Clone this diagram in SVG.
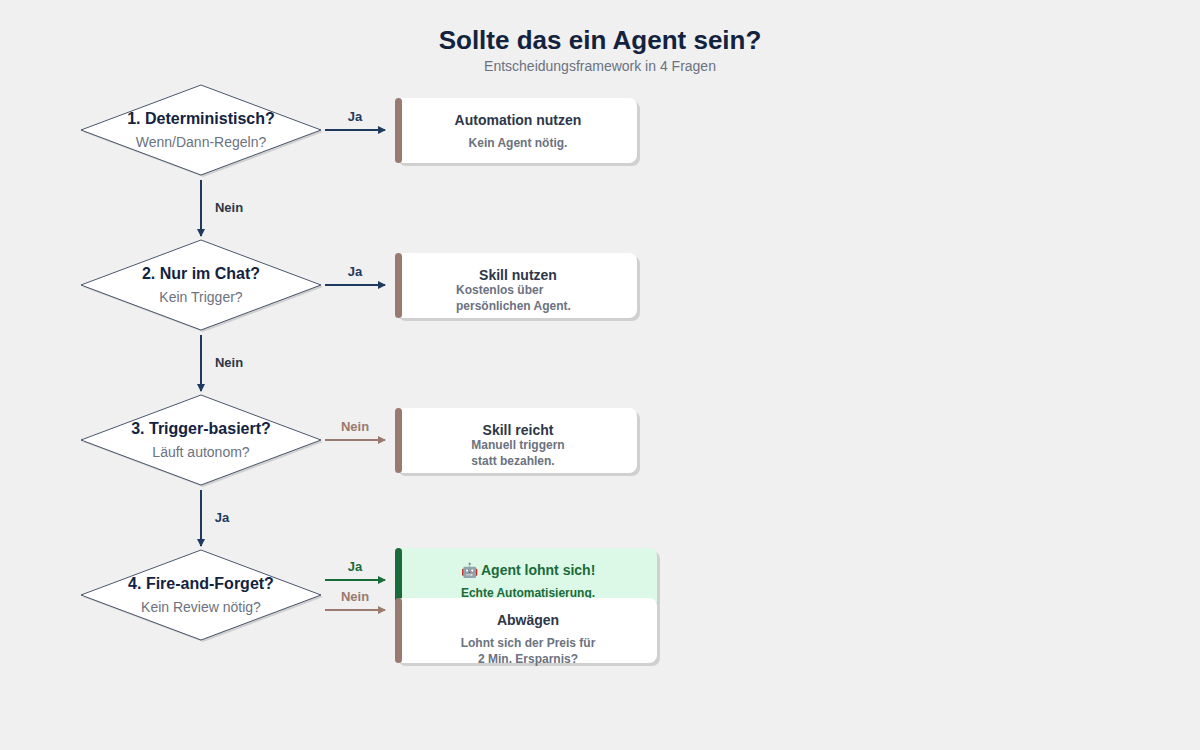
<svg xmlns="http://www.w3.org/2000/svg" width="1200" height="750" viewBox="0 0 1200 750">
<defs>
<style>
text{font-family:"Liberation Sans",Arial,sans-serif;text-anchor:middle}
.t{font-size:26px;font-weight:bold;fill:#13233f}
.st{font-size:14px;fill:#6b7280}
.dq{font-size:16px;font-weight:bold;fill:#13233f}
.ds{font-size:14px;fill:#6b7280}
.dia{fill:#fff;stroke:#1f2d4a;stroke-width:0.8}
.sh{fill:#d0d0d0}
.card{fill:#fff}
.ct{font-size:14px;font-weight:bold;fill:#2d3748}
.cs{font-size:12px;font-weight:bold;fill:#6b7280}
.lbl{font-size:13px;font-weight:bold}
.navy{stroke:#1f3a5f;stroke-width:2;fill:none}
.brown{stroke:#9a7a6e;stroke-width:2;fill:none}
.green{stroke:#1a6b3a;stroke-width:2;fill:none}
</style>
<marker id="an" markerWidth="8" markerHeight="8" refX="7" refY="4" orient="auto" markerUnits="userSpaceOnUse"><path d="M0,0 L8,4 L0,8 z" fill="#1f3a5f"/></marker>
<marker id="ab" markerWidth="8" markerHeight="8" refX="7" refY="4" orient="auto" markerUnits="userSpaceOnUse"><path d="M0,0 L8,4 L0,8 z" fill="#9a7a6e"/></marker>
<marker id="ag" markerWidth="8" markerHeight="8" refX="7" refY="4" orient="auto" markerUnits="userSpaceOnUse"><path d="M0,0 L8,4 L0,8 z" fill="#1a6b3a"/></marker>
</defs>
<rect width="1200" height="750" fill="#f0f0f0"/>
<text class="t" x="600" y="49">Sollte das ein Agent sein?</text>
<text class="st" x="600" y="71">Entscheidungsframework in 4 Fragen</text>

<g id="connectors">
<line class="navy" x1="325" y1="130" x2="385" y2="130" marker-end="url(#an)"/>
<text class="lbl" x="355" y="121" fill="#1f3a5f">Ja</text>
<line class="navy" x1="201" y1="180" x2="201" y2="236" marker-end="url(#an)"/>
<text class="lbl" x="229" y="212" fill="#2d3748">Nein</text>
<line class="navy" x1="325" y1="285" x2="385" y2="285" marker-end="url(#an)"/>
<text class="lbl" x="355" y="276" fill="#1f3a5f">Ja</text>
<line class="navy" x1="201" y1="335" x2="201" y2="391" marker-end="url(#an)"/>
<text class="lbl" x="229" y="367" fill="#2d3748">Nein</text>
<line class="brown" x1="325" y1="440" x2="385" y2="440" marker-end="url(#ab)"/>
<text class="lbl" x="355" y="431" fill="#9a7a6e">Nein</text>
<line class="navy" x1="201" y1="490" x2="201" y2="546" marker-end="url(#an)"/>
<text class="lbl" x="222" y="522" fill="#1f3a5f">Ja</text>
<line class="green" x1="325" y1="580" x2="385" y2="580" marker-end="url(#ag)"/>
<text class="lbl" x="355" y="571" fill="#1a6b3a">Ja</text>
<line class="brown" x1="325" y1="610" x2="385" y2="610" marker-end="url(#ab)"/>
<text class="lbl" x="355" y="601" fill="#9a7a6e">Nein</text>
</g>

<g id="q1"><polygon class="sh" points="203,87 323,132 203,177 83,132"/><polygon class="dia" points="201,85 321,130 201,175 81,130"/>
<text class="dq" x="201" y="124">1. Deterministisch?</text><text class="ds" x="201" y="147">Wenn/Dann-Regeln?</text></g>
<g id="q2"><polygon class="sh" points="203,242 323,287 203,332 83,287"/><polygon class="dia" points="201,240 321,285 201,330 81,285"/>
<text class="dq" x="201" y="279">2. Nur im Chat?</text><text class="ds" x="201" y="302">Kein Trigger?</text></g>
<g id="q3"><polygon class="sh" points="203,397 323,442 203,487 83,442"/><polygon class="dia" points="201,395 321,440 201,485 81,440"/>
<text class="dq" x="201" y="434">3. Trigger-basiert?</text><text class="ds" x="201" y="457">Läuft autonom?</text></g>
<g id="q4"><polygon class="sh" points="203,552 323,597 203,642 83,597"/><polygon class="dia" points="201,550 321,595 201,640 81,595"/>
<text class="dq" x="201" y="589">4. Fire-and-Forget?</text><text class="ds" x="201" y="612">Kein Review nötig?</text></g>

<g id="r1"><rect class="sh" x="398" y="101" width="242" height="65" rx="8"/><rect class="card" x="395" y="98" width="242" height="65" rx="8"/><rect x="395" y="98" width="7" height="65" rx="3.5" fill="#9a7a6e"/>
<text class="ct" x="518" y="125">Automation nutzen</text><text class="cs" x="518" y="147">Kein Agent nötig.</text></g>
<g id="r2"><rect class="sh" x="398" y="256" width="242" height="65" rx="8"/><rect class="card" x="395" y="253" width="242" height="65" rx="8"/><rect x="395" y="253" width="7" height="65" rx="3.5" fill="#9a7a6e"/>
<text class="ct" x="518" y="280">Skill nutzen</text><text class="cs" x="456" y="294" style="text-anchor:start">Kostenlos über</text><text class="cs" x="456" y="310" style="text-anchor:start">persönlichen Agent.</text></g>
<g id="r3"><rect class="sh" x="398" y="411" width="242" height="65" rx="8"/><rect class="card" x="395" y="408" width="242" height="65" rx="8"/><rect x="395" y="408" width="7" height="65" rx="3.5" fill="#9a7a6e"/>
<text class="ct" x="518" y="435">Skill reicht</text><text class="cs" x="518" y="449">Manuell triggern</text><text class="cs" x="513" y="465">statt bezahlen.</text></g>
<g id="r4"><rect class="sh" x="398" y="551" width="262" height="65" rx="8"/><rect x="395" y="548" width="262" height="65" rx="8" fill="#dcf8e6"/><rect x="395" y="548" width="7" height="65" rx="3.5" fill="#1a6b3a"/>
<text class="ct" x="528" y="575" fill="#1a6b3a" style="fill:#1a6b3a">🤖 Agent lohnt sich!</text><text class="cs" x="528" y="597" style="fill:#1a6b3a">Echte Automatisierung.</text></g>
<g id="r5"><rect class="sh" x="398" y="601" width="262" height="65" rx="8"/><rect class="card" x="395" y="598" width="262" height="65" rx="8"/><rect x="395" y="598" width="7" height="65" rx="3.5" fill="#9a7a6e"/>
<text class="ct" x="528" y="625">Abwägen</text><text class="cs" x="528" y="647">Lohnt sich der Preis für</text><text class="cs" x="528" y="663">2 Min. Ersparnis?</text></g>
</svg>
